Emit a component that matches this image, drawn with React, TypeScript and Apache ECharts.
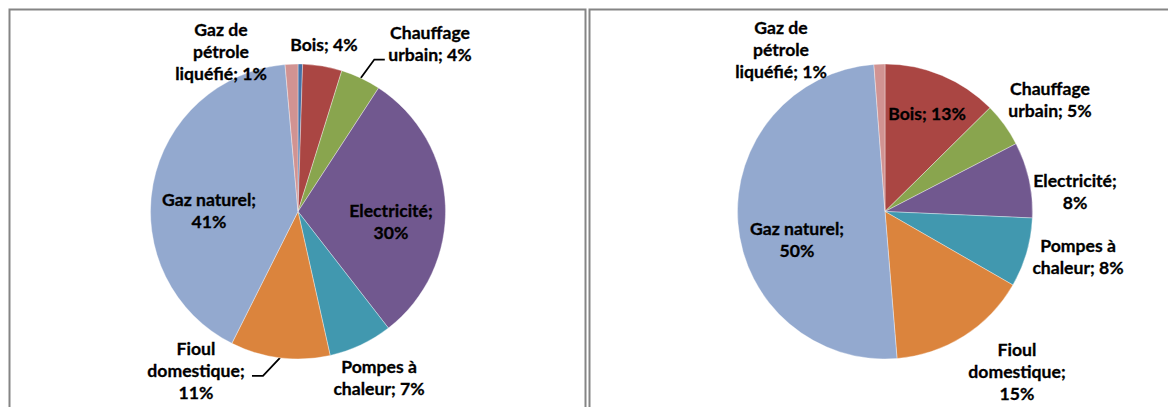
import React, { useEffect, useRef } from 'react';
import * as echarts from 'echarts';

// ---- data ----
const categories = [
  'Charbon',
  'Bois',
  'Chauffage urbain',
  'Electricité',
  'Pompes à chaleur',
  'Fioul domestique',
  'Gaz naturel',
  'Gaz de pétrole liquéfié',
];
const wrappedNames = [
  'Charbon',
  'Bois',
  'Chauffage\nurbain',
  'Electricité',
  'Pompes à\nchaleur',
  'Fioul\ndomestique',
  'Gaz naturel',
  'Gaz de\npétrole\nliquéfié',
];
const percentOnNewLine = [false, false, false, true, false, true, true, false];
const leftValues = [0.5, 4.3, 4.4, 30.3, 7.0, 10.9, 41.2, 1.4];
const rightValues = [0, 12.6, 4.8, 8.3, 7.6, 15.4, 50.1, 1.2];
const colors = ['#4572A7', '#AA4643', '#89A54E', '#71588F', '#4198AF', '#DB843D', '#93A9CF', '#D19392'];
const leftLeaderLines = [false, false, true, false, false, true, false, false];

export default function App() {
  const ref = useRef<HTMLDivElement>(null);

  useEffect(() => {
    if (!ref.current) return;
    const chart = echarts.init(ref.current, undefined, { renderer: 'svg' });

    // label centres (x, y) per category index, per chart
    const leftLabelPos: Record<number, [number, number]> = {
      1: [324, 44],
      2: [430, 43],
      3: [391, 221],
      4: [379, 377.5],
      5: [196, 370],
      6: [209, 210],
      7: [221, 51],
    };
    const rightLabelPos: Record<number, [number, number]> = {
      1: [927, 113],
      2: [1050, 99],
      3: [1075, 191],
      4: [1078, 256],
      5: [1017, 371],
      6: [797, 239],
      7: [781, 49],
    };
    // leader line shape: [dx1, dy1, dx2] from the slice anchor
    const leftLeaderShape: Record<number, [number, number, number]> = {
      2: [13.5, -18.5, 24],
      5: [-17, 18, -28],
    };

    const formatter = (p: any) =>
      `${wrappedNames[p.dataIndex]};${percentOnNewLine[p.dataIndex] ? '\n' : ' '}${Math.round(p.percent)}%`;

    const makeData = (values: number[], leaders: boolean[] | null) =>
      values.map((v, i) => ({
        name: categories[i],
        value: v,
        itemStyle: { color: colors[i] },
        label: { show: i !== 0 },
        labelLine: { show: !!(leaders && leaders[i]) },
      }));

    const baseSeries = {
      type: 'pie',
      radius: 147.5,
      startAngle: 90,
      clockwise: true,
      avoidLabelOverlap: false,
      itemStyle: { borderColor: 'rgba(255,255,255,0.6)', borderWidth: 0.6 },
      label: {
        position: 'outside',
        formatter,
        color: '#000',
        fontFamily: 'Lato',
        fontWeight: 'bold',
        fontSize: 17.6,
        lineHeight: 22,
        align: 'center',
        textBorderColor: '#000',
        textBorderWidth: 0.3,
      },
      labelLine: {
        show: false,
        length: 10,
        length2: 10,
        lineStyle: { color: '#000', width: 1.8 },
      },
      emphasis: { disabled: true },
    };

    const layoutFor = (
      pos: Record<number, [number, number]>,
      leaders: Record<number, [number, number, number]>
    ) => (params: any) => {
      const p = pos[params.dataIndex];
      if (!p) return {};
      const out: any = { x: p[0], y: p[1], align: 'center', verticalAlign: 'middle' };
      const shape = leaders[params.dataIndex];
      if (shape && params.labelLinePoints && params.labelLinePoints[0]) {
        const a = params.labelLinePoints[0];
        out.labelLinePoints = [
          [a[0], a[1]],
          [a[0] + shape[0], a[1] + shape[1]],
          [a[0] + shape[2], a[1] + shape[1]],
        ];
      }
      return out;
    };

    chart.setOption({
      animation: false,
      backgroundColor: '#ffffff',
      graphic: [
        {
          type: 'rect',
          silent: true,
          shape: { x: 9.5, y: 9.5, width: 576, height: 430 },
          style: { fill: 'none', stroke: '#858585', lineWidth: 2 },
        },
        {
          type: 'rect',
          silent: true,
          shape: { x: 589.5, y: 9.5, width: 620, height: 430 },
          style: { fill: 'none', stroke: '#858585', lineWidth: 2 },
        },
      ],
      series: [
        {
          ...baseSeries,
          name: 'Gauche',
          center: [298, 211.5],
          data: makeData(leftValues, leftLeaderLines),
          labelLayout: layoutFor(leftLabelPos, leftLeaderShape),
        },
        {
          ...baseSeries,
          name: 'Droite',
          center: [885, 211.5],
          data: makeData(rightValues, null),
          labelLayout: layoutFor(rightLabelPos, {}),
        },
      ],
    });

    return () => chart.dispose();
  }, []);

  return (
    <div
      ref={ref}
      style={{ position: 'absolute', left: 0, top: 0, width: 1168, height: 407, background: '#fff' }}
    />
  );
}
